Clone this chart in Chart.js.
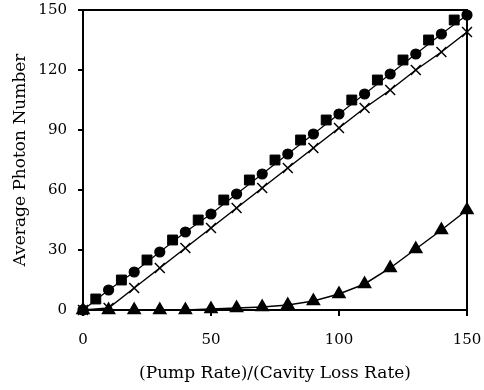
<!DOCTYPE html>
<html>
<head>
<meta charset="utf-8">
<script src="https://cdn.jsdelivr.net/npm/chart.js@4/dist/chart.umd.min.js"></script>
<style>
  html, body { margin: 0; padding: 0; background: #fff; }
  #wrap { width: 484px; height: 390px; position: relative; }
</style>
</head>
<body>
<div id="wrap"><canvas id="photon-chart"></canvas></div>
<script>
// Data
const pumpRatio = [0, 10, 20, 30, 40, 50, 60, 70, 80, 90, 100, 110, 120, 130, 140, 150];
const circleValues = [0, 10, 19, 29, 39, 48, 58, 68, 78, 88, 98, 108, 118, 128, 138, 147.5];
const crossValues = [0, 1, 11, 21, 31, 41, 51, 61, 71, 81, 91, 101, 110, 120, 129, 139];
const triangleValues = [0, 0, 0, 0, 0, 0.5, 1, 1.5, 2.5, 4.5, 8, 13, 21, 30.5, 40, 50];
const squareRatio = [5, 15, 25, 35, 45, 55, 65, 75, 85, 95, 105, 115, 125, 135, 145];
const squareValues = [5.5, 15, 25, 35, 45, 55, 65, 75, 85, 95, 105, 115, 125, 135, 145];
const yTicks = [0, 30, 60, 90, 120, 150];
const xTicks = [0, 50, 100, 150];

const FONT = 'DejaVu Serif';

function toPoints(xs, ys) {
    return xs.map((x, i) => ({ x: x, y: ys[i] }));
}

// Box round the plot area (top and right edges)
const frameBox = {
    id: 'frameBox',
    afterDatasetsDraw(chart) {
        const { ctx, chartArea: a } = chart;
        ctx.save();
        ctx.strokeStyle = '#000';
        ctx.lineWidth = 2;
        ctx.strokeRect(a.left, a.top, a.right - a.left, a.bottom - a.top);
        ctx.restore();
    }
};

const ctx = document.getElementById('photon-chart').getContext('2d');
new Chart(ctx, {
    type: 'scatter',
    data: {
        datasets: [
            {
                label: 'triangles',
                data: toPoints(pumpRatio, triangleValues),
                showLine: true,
                borderColor: '#000',
                backgroundColor: '#000',
                borderWidth: 1.5,
                pointStyle: 'triangle',
                pointRadius: 7,
                clip: false
            },
            {
                label: 'crosses',
                data: toPoints(pumpRatio, crossValues),
                showLine: true,
                borderColor: '#000',
                backgroundColor: '#000',
                borderWidth: 1.5,
                pointStyle: 'crossRot',
                pointRadius: 7,
                pointBorderWidth: 1.5,
                clip: false
            },
            {
                label: 'circles',
                data: toPoints(pumpRatio, circleValues),
                showLine: true,
                borderColor: '#000',
                backgroundColor: '#000',
                borderWidth: 1.2,
                pointStyle: 'circle',
                pointRadius: 5,
                clip: false
            },
            {
                label: 'squares',
                data: toPoints(squareRatio, squareValues),
                showLine: false,
                borderColor: '#000',
                backgroundColor: '#000',
                pointStyle: 'rect',
                pointRadius: 7,
                clip: false
            }
        ]
    },
    options: {
        responsive: true,
        maintainAspectRatio: false,
        animation: false,
        layout: {
            padding: { left: 0, right: 17, top: 10, bottom: 0 }
        },
        plugins: {
            legend: { display: false },
            tooltip: { enabled: false }
        },
        scales: {
            x: {
                type: 'linear',
                min: 0,
                max: 150,
                afterBuildTicks: scale => {
                    scale.ticks = xTicks.map(v => ({ value: v }));
                },
                afterFit: scale => {
                    scale.height = 80;
                    scale.paddingLeft = 0;
                    scale.paddingRight = 0;
                },
                border: { display: true, color: '#000', width: 2 },
                grid: {
                    drawOnChartArea: false,
                    drawTicks: true,
                    tickLength: 6,
                    color: '#000',
                    lineWidth: 2
                },
                ticks: {
                    color: '#000',
                    padding: 15,
                    font: { family: FONT, size: 15 }
                },
                title: {
                    display: true,
                    text: '(Pump Rate)/(Cavity Loss Rate)',
                    color: '#000',
                    font: { family: FONT, size: 17 },
                    padding: { top: 0, bottom: 6 }
                }
            },
            y: {
                type: 'linear',
                min: 0,
                max: 150,
                afterBuildTicks: scale => {
                    scale.ticks = yTicks.map(v => ({ value: v }));
                },
                afterFit: scale => {
                    scale.width = 83;
                    scale.paddingTop = 0;
                    scale.paddingBottom = 0;
                },
                border: { display: true, color: '#000', width: 2 },
                grid: {
                    drawOnChartArea: false,
                    drawTicks: true,
                    tickLength: 5,
                    color: '#000',
                    lineWidth: 2
                },
                ticks: {
                    color: '#000',
                    padding: 11,
                    font: { family: FONT, size: 15 }
                },
                title: {
                    display: true,
                    text: 'Average Photon Number',
                    color: '#000',
                    font: { family: FONT, size: 17 },
                    padding: { top: 10, bottom: 0 }
                }
            }
        }
    },
    plugins: [frameBox]
});
</script>
</body>
</html>
